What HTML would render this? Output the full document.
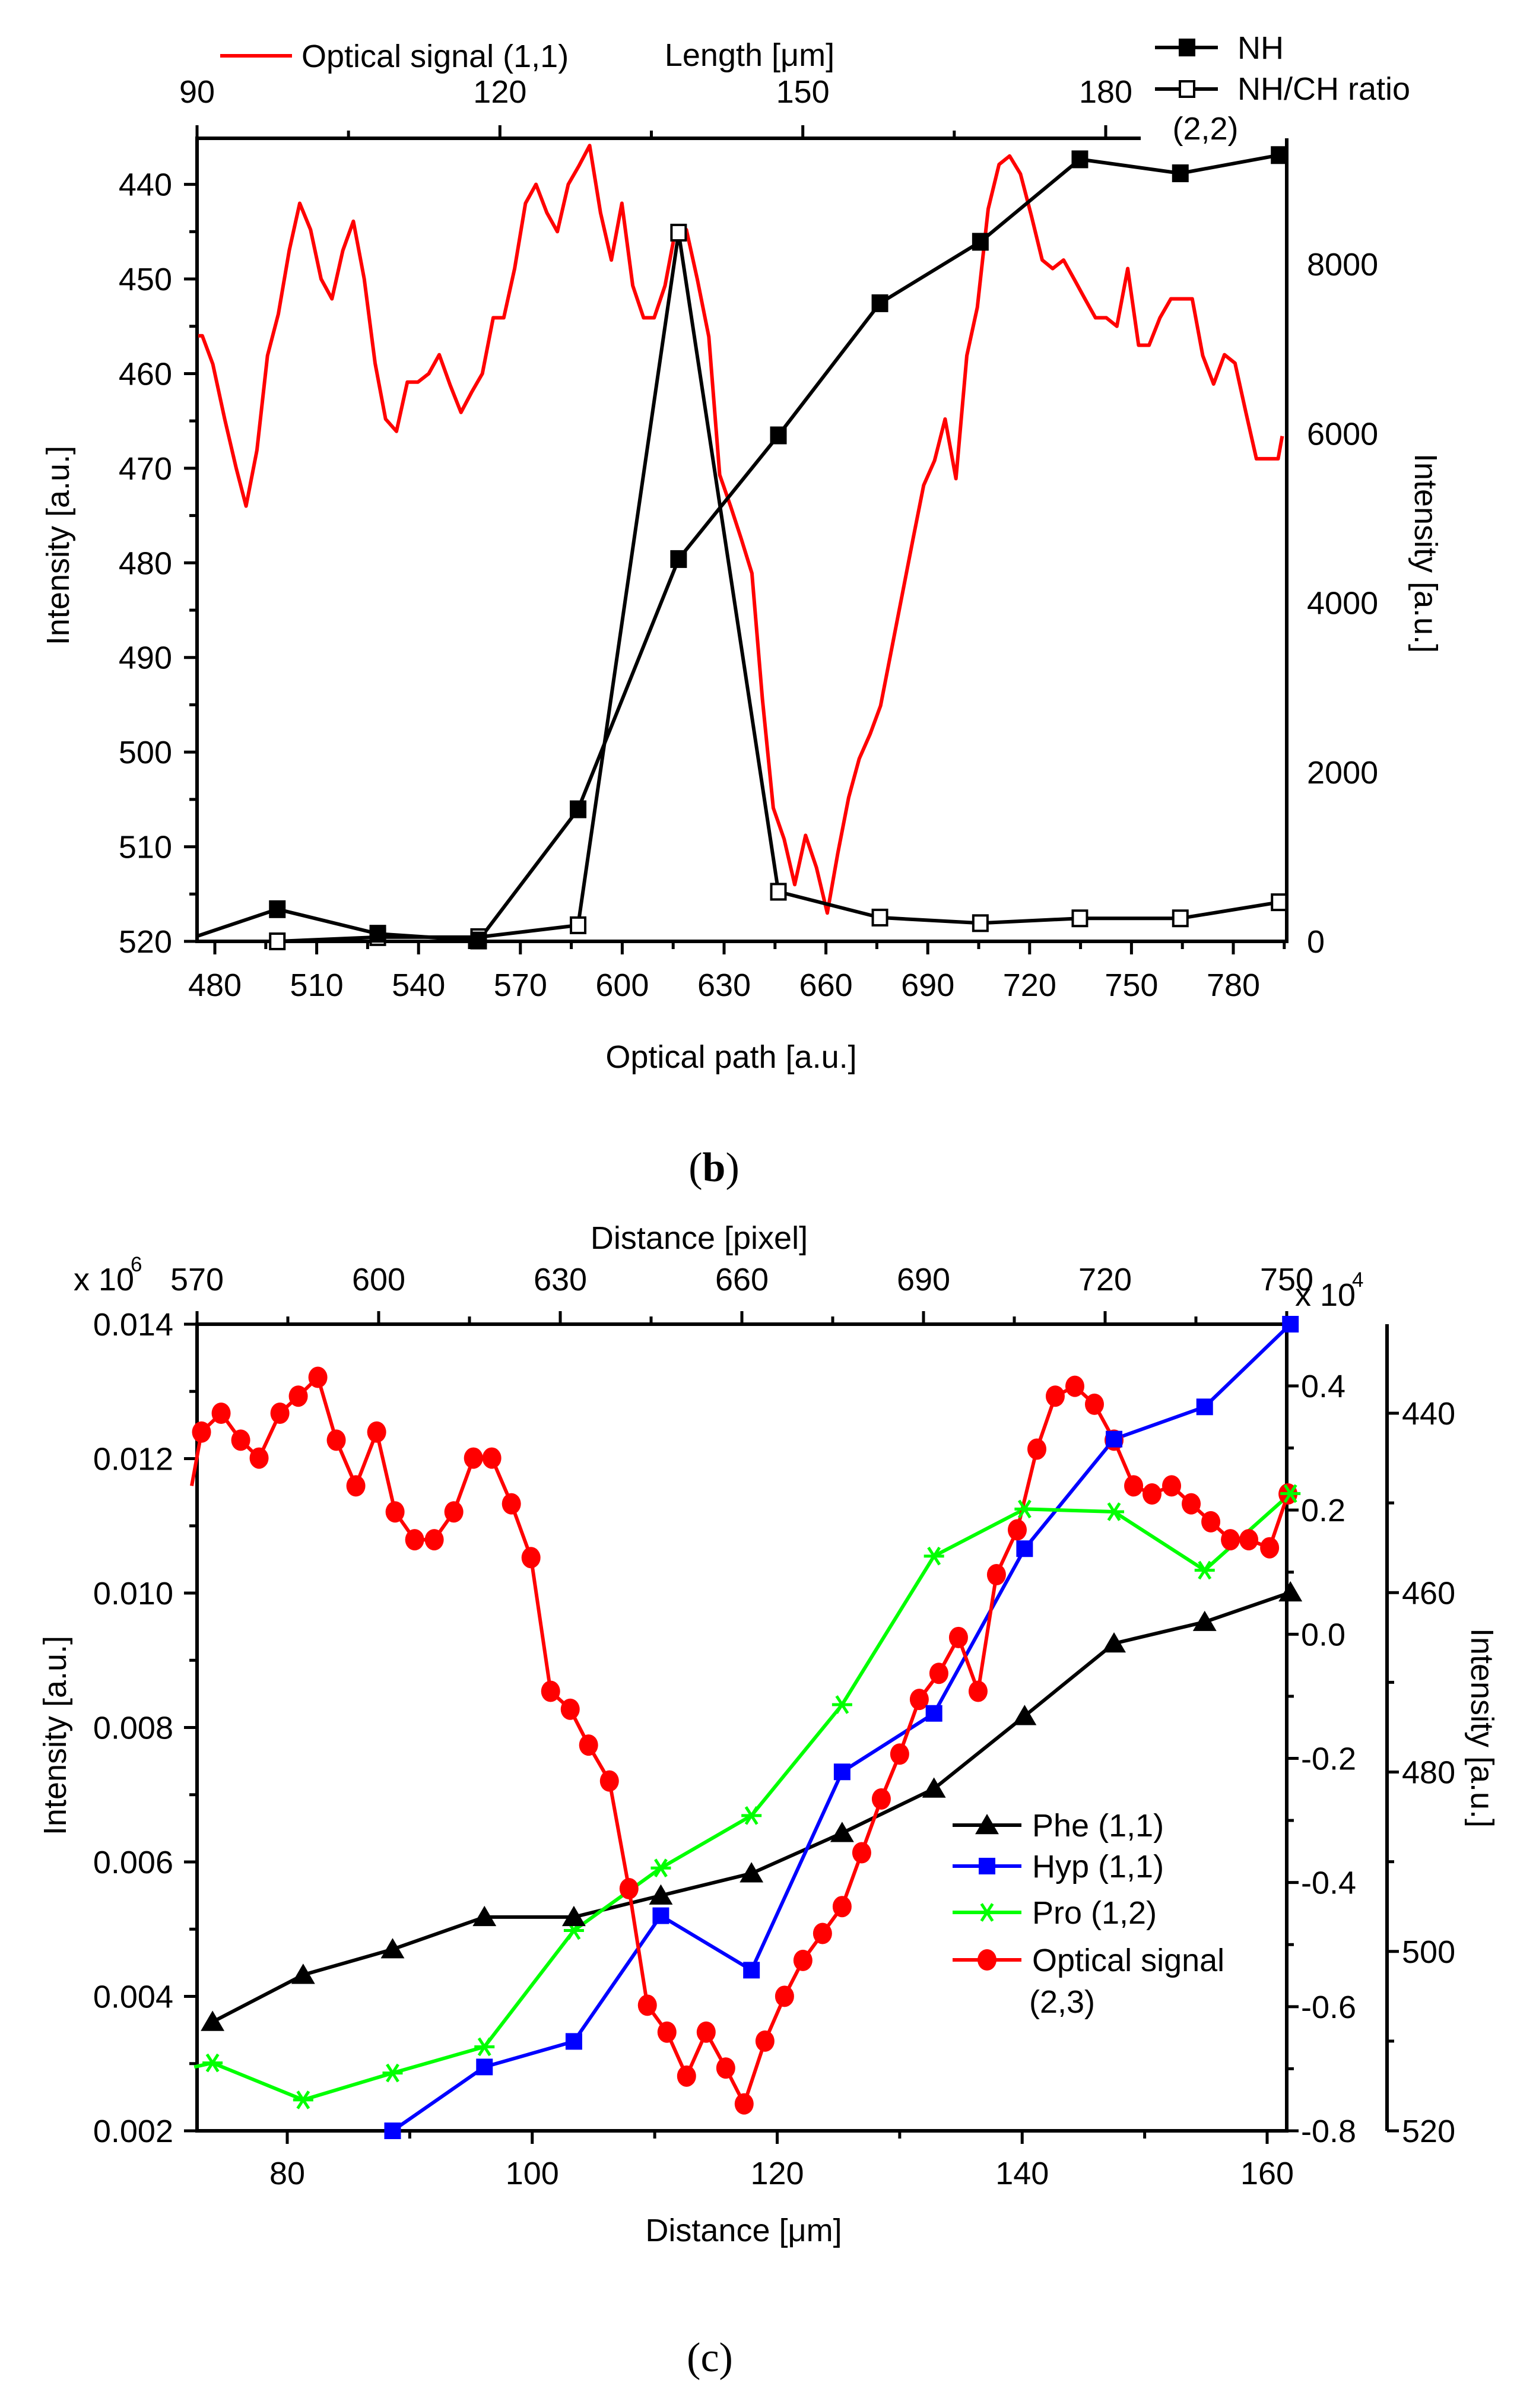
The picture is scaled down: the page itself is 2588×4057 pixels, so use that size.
<!DOCTYPE html>
<html><head><meta charset="utf-8"><style>
html,body{margin:0;padding:0;background:#fff}
svg{display:block}
text{font-family:"Liberation Sans",Arial,sans-serif;fill:#000}
</style></head><body>
<svg id="fig" xmlns="http://www.w3.org/2000/svg" width="2588" height="4057" viewBox="0 0 2588 4057">
<rect x="0" y="0" width="2588" height="4057" fill="#fff"/>
<g id="gb"></g>
<g id="gc"></g>
</svg>
<script>
// ---------- Chart (b) data ----------
const bOptX=[475.1,476.3,479.4,482.9,486.3,489.2,492.4,495.5,498.7,501.9,505.0,508.2,511.3,514.5,517.7,520.8,524.0,527.2,530.3,533.5,536.7,539.8,543.0,546.1,549.3,552.5,555.6,558.8,562.0,565.1,568.3,571.5,574.6,577.8,580.9,584.1,587.3,590.4,593.6,596.8,599.9,603.1,606.3,609.4,612.6,615.7,618.9,622.1,625.5,628.7,631.9,635.0,638.2,641.3,644.5,647.7,650.8,654.0,657.2,660.4,663.5,666.7,669.8,673.0,676.1,679.3,682.5,685.7,688.8,692.0,695.1,698.3,701.5,704.6,707.8,711.0,714.1,717.3,720.5,723.7,726.8,730.0,733.1,736.3,739.4,742.6,745.7,748.9,752.1,755.2,758.4,761.6,764.7,767.9,771.0,774.2,777.4,780.5,783.7,786.8,790.0,793.2,794.4];
const bOptY=[456.0,456.0,459.0,464.8,470.0,474.0,468.1,458.1,453.7,447.0,442.0,444.8,450.0,452.1,447.0,443.9,450.0,458.9,464.8,466.1,460.9,460.9,460.0,458.0,461.2,464.1,462.0,460.0,454.1,454.1,448.9,442.0,440.0,443.0,445.0,440.0,438.0,435.9,443.0,448.0,442.0,450.7,454.1,454.1,450.7,444.8,444.8,450.0,456.1,470.7,474.0,477.4,481.1,494.4,505.9,509.2,514.0,508.8,512.2,517.0,510.7,504.8,500.7,498.1,495.1,489.2,483.3,477.4,471.8,469.2,464.8,471.1,458.1,453.0,442.6,437.9,437.0,438.9,443.3,448.0,448.9,448.0,450.0,452.1,454.1,454.1,455.0,448.9,457.0,457.0,454.1,452.1,452.1,452.1,458.1,461.1,458.0,458.9,464.1,469.0,469.0,469.0,466.6];
const bNHX=[475.1,498.4,528.0,557.7,587.0,616.6,646.0,675.9,705.5,734.8,764.4,793.5];
const bNHY=[66,380,90,10,1560,4516,5977,7538,8264,9238,9073,9288];
const bRatX=[498.4,528.0,557.7,587.0,616.6,646.0,675.9,705.5,734.8,764.4,793.5];
const bRatY=[0,50,50,190,8372,586,281,215,272,272,462];
const bLeftTicks=[440,450,460,470,480,490,500,510,520];
const bBottomTicks=[480,510,540,570,600,630,660,690,720,750,780];
const bRightTicks=[0,2000,4000,6000,8000];
const bTopTicks=[90,120,150,180];

// ---------- Chart (c) data ----------
const cPheX=[73.9,81.3,88.6,96.1,103.4,110.5,117.9,125.3,132.8,140.2,147.5,154.9,161.9];
const cPheY=[0.00362,0.00432,0.00470,0.00518,0.00518,0.00550,0.00583,0.00643,0.00709,0.00817,0.00925,0.00957,0.01001];
const cHypX=[88.6,96.1,103.4,110.5,117.9,125.3,132.8,140.2,147.5,154.9,161.9];
const cHypY=[0.00200,0.00295,0.00333,0.00520,0.00439,0.00734,0.00821,0.01066,0.01229,0.01277,0.01400];
const cProX=[72.4,73.9,81.3,88.6,96.1,103.4,110.5,117.9,125.3,132.8,140.2,147.5,154.9,161.9];
const cProY=[0.00295,0.00301,0.00246,0.00286,0.00325,0.00498,0.00591,0.00669,0.00834,0.01055,0.01125,0.01121,0.01034,0.01148];
const cOptX=[72.2,73.0,74.6,76.2,77.7,79.4,80.9,82.5,84.0,85.6,87.3,88.8,90.4,92.0,93.6,95.2,96.7,98.3,99.9,101.5,103.1,104.6,106.3,107.9,109.4,111.0,112.6,114.2,115.8,117.3,119.0,120.6,122.1,123.7,125.3,126.9,128.5,130.0,131.6,133.2,134.8,136.4,137.9,139.6,141.2,142.7,144.3,145.9,147.5,149.1,150.6,152.2,153.8,155.4,157.0,158.5,160.2,161.7];
const cOptY=[448.1,442.1,440.0,443.0,445.0,440.0,438.1,436.0,443.0,448.1,442.1,451.0,454.1,454.1,451.0,445.0,445.0,450.1,456.1,471.0,473.0,477.0,481.0,493.0,506.0,509.0,513.9,509.0,513.0,517.0,510.0,505.0,501.0,498.0,495.0,489.0,483.0,478.0,471.9,469.0,465.0,471.0,458.0,453.0,444.0,438.1,437.0,439.0,443.0,448.1,449.0,448.1,450.1,452.1,454.1,454.1,455.0,449.0];
const cLeftTicks=["0.002","0.004","0.006","0.008","0.010","0.012","0.014"];
const cBottomTicks=[80,100,120,140,160];
const cTopTicks=[570,600,630,660,690,720,750];
const cInnerTicks=["-0.8","-0.6","-0.4","-0.2","0.0","0.2","0.4"];
const cFarTicks=[440,460,480,500,520];

const NS="http://www.w3.org/2000/svg";
const FS=54;
function mk(parent,tag,attrs){const e=document.createElementNS(NS,tag);for(const k in attrs)e.setAttribute(k,attrs[k]);parent.appendChild(e);return e;}
function txt(parent,x,y,s,anchor,size,rot){
  const t=document.createElementNS(NS,'text');
  t.setAttribute('transform','translate('+x+','+y+') rotate('+(rot||0)+')');
  t.setAttribute('text-anchor',anchor||'middle');
  t.setAttribute('font-size',size||FS);
  t.textContent=s;parent.appendChild(t);return t;
}
function line(parent,x1,y1,x2,y2,c,w){return mk(parent,'line',{x1:x1,y1:y1,x2:x2,y2:y2,stroke:c||'#000','stroke-width':w||6});}
function poly(parent,xs,ys,fx,fy,c,w){
  let d='';for(let i=0;i<xs.length;i++){d+=(i?'L':'M')+fx(xs[i]).toFixed(1)+','+fy(ys[i]).toFixed(1);}
  return mk(parent,'path',{d:d,fill:'none',stroke:c,'stroke-width':w||6,'stroke-linejoin':'round'});
}

// ====== Chart b ======
const gb=document.getElementById('gb');
const bxL=332,bxR=2168,byT=233,byB=1586;
const xb=v=>362+(v-480)*(2078-362)/300;
const yb=v=>310.6+(v-440)*(1586-310.6)/80;
const yr=v=>1586-v*(1586-445)/8000;
const xbt=v=>332+(v-90)*(1863-332)/90;

let a;
a=line(gb,bxL,byT,bxL,byB);


a=line(gb,bxL-3,byB,bxR+3,byB);


a=line(gb,bxR,byT,bxR,byB);


a=line(gb,bxL-3,byT,1922,byT);


for(let v=435;v<=520;v+=5){const y=yb(v);if(y<byT-1)continue;line(gb,bxL-(v%10===0?22:13),y,bxL,y,'#000',5);}
bLeftTicks.forEach(v=>{const t=txt(gb,290,yb(v)+19,String(v),'end');

});
for(let v=480;v<=795;v+=15){const x=xb(v);if(x>bxR)continue;line(gb,x,byB,x,byB+(v%30===0?22:13),'#000',5);}
bBottomTicks.forEach(v=>{const t=txt(gb,xb(v),1678,String(v),'middle');

});
bRightTicks.forEach(v=>{const t=txt(gb,2202,yr(v)+19,String(v),'start');

});
for(let v=90;v<=180;v+=15){const x=xbt(v);line(gb,x,byT,x,byT-(v%30===0?22:13),'#000',5);}
bTopTicks.forEach(v=>{const t=txt(gb,xbt(v),173,String(v),'middle');

});
let t;
t=txt(gb,116,919,'Intensity [a.u.]','middle',FS,-90);


t=txt(gb,2384,932,'Intensity [a.u.]','middle',FS,90);


t=txt(gb,1232,1799,'Optical path [a.u.]','middle');


t=txt(gb,1263,111,'Length [\u03bcm]','middle');



let p=poly(gb,bOptX,bOptY,xb,yb,'#ff0000',6);


p=poly(gb,bNHX,bNHY,xb,yr,'#000',6);


p=poly(gb,bRatX,bRatY,xb,yr,'#000',6);


bRatX.forEach((v,i)=>{const r=mk(gb,'rect',{x:xb(v)-12,y:yr(bRatY[i])-13,width:24,height:26,fill:'#fff',stroke:'#000','stroke-width':4});

});
bNHX.forEach((v,i)=>{if(v<477)return;const r=mk(gb,'rect',{x:xb(v)-14,y:yr(bNHY[i])-15,width:28,height:30,fill:'#000'});

});

const lb=mk(gb,'g',{});


line(lb,371,94,492,94,'#ff0000',6);
t=txt(lb,508,113,'Optical signal (1,1)','start');


line(lb,1946,80,2052,80,'#000',6);
mk(lb,'rect',{x:1986,y:65,width:28,height:30,fill:'#000'});
t=txt(lb,2085,99,'NH','start');


line(lb,1946,150,2052,150,'#000',6);
mk(lb,'rect',{x:1988,y:137,width:24,height:26,fill:'#fff',stroke:'#000','stroke-width':4});
t=txt(lb,2085,168,'NH/CH ratio','start');


t=txt(lb,2031,235,'(2,2)','middle');


t=document.createElementNS(NS,'text');
t.setAttribute('x',1203);t.setAttribute('y',1990);t.setAttribute('text-anchor','middle');
t.setAttribute('style','font-family:"Liberation Serif",serif;font-size:70px');
t.innerHTML='(<tspan font-weight="bold">b</tspan>)';
gb.appendChild(t);



// ====== Chart c ======
const gc=document.getElementById('gc');
const cxL=332,cxR=2168,cyT=2231,cyB=3590,farX=2337;
const xc=v=>484+(v-80)*(2135-484)/80;
const yc=v=>2231+(0.014-v)*(3590-2231)/0.012;
const yi=v=>2335+(0.4-v)*(3590-2335)/1.2;
const yf=v=>2381+(v-440)*(3590-2381)/80;
const xct=v=>332+(v-570)*(2168-332)/180;

a=line(gc,cxL,cyT-3,cxL,cyB);


a=line(gc,cxL-3,cyB,cxR+3,cyB);


a=line(gc,cxL-3,cyT,cxR+3,cyT);


a=line(gc,cxR,cyT,cxR,cyB);


a=line(gc,farX,cyT,farX,cyB);


for(let k=2;k<=14;k++){const y=yc(k/1000);line(gc,cxL-(k%2===0?22:13),y,cxL,y,'#000',5);}
cLeftTicks.forEach(s=>{const t=txt(gc,292,yc(parseFloat(s))+19,s,'end');

});
for(let v=80;v<=160;v+=10){const x=xc(v);line(gc,x,cyB,x,cyB+(v%20===0?22:13),'#000',5);}
cBottomTicks.forEach(v=>{const t=txt(gc,xc(v),3680,String(v),'middle');

});
for(let v=570;v<=750;v+=15){const x=xct(v);line(gc,x,cyT,x,cyT-(v%30===0?22:13),'#000',5);}
cTopTicks.forEach(v=>{const t=txt(gc,xct(v),2174,String(v),'middle');

});
for(let k=-8;k<=5;k++){const y=yi(k/10);if(y<cyT)continue;line(gc,cxR,y,cxR+(k%2===0?20:12),y,'#000',5);}
cInnerTicks.forEach(s=>{const t=txt(gc,2192,yi(parseFloat(s))+19,s,'start');

});
for(let v=430;v<=520;v+=10){const y=yf(v);if(y<cyT)continue;line(gc,farX,y,farX+(v%20===0?20:12),y,'#000',5);}
cFarTicks.forEach(v=>{const t=txt(gc,2362,yf(v)+19,String(v),'start');

});
t=txt(gc,124,2174,'x 10','start');


t=txt(gc,220,2142,'6','start',35);


t=txt(gc,2182,2200,'x 10','start');


t=txt(gc,2278,2168,'4','start',35);


t=txt(gc,1178,2104,'Distance [pixel]','middle');


t=txt(gc,1253,3776,'Distance [\u03bcm]','middle');


t=txt(gc,111,2924,'Intensity [a.u.]','middle',FS,-90);


t=txt(gc,2479,2911,'Intensity [a.u.]','middle',FS,90);



p=poly(gc,cPheX,cPheY,xc,yc,'#000',6);


p=poly(gc,cHypX,cHypY,xc,yc,'#0000ff',6);


p=poly(gc,cProX,cProY,xc,yc,'#00ff00',6);


p=poly(gc,cOptX,cOptY,xc,yf,'#ff0000',6);



function tri(g,x,y,s){return mk(g,'path',{d:'M'+x+','+(y-s)+'L'+(x+s*1.05)+','+(y+s*0.8)+'L'+(x-s*1.05)+','+(y+s*0.8)+'Z',fill:'#000'});}
function sq(g,x,y,s,c){return mk(g,'rect',{x:x-s,y:y-s,width:2*s,height:2*s,fill:c});}
function star(g,x,y,s,c){const gg=mk(g,'g',{stroke:c,'stroke-width':5});
 line(gg,x-s,y,x+s,y,c,5);line(gg,x-s*0.55,y-s*0.85,x+s*0.55,y+s*0.85,c,5);line(gg,x+s*0.55,y-s*0.85,x-s*0.55,y+s*0.85,c,5);return gg;}

cOptX.forEach((v,i)=>{if(i===0)return;const m=mk(gc,'ellipse',{cx:xc(v),cy:yf(cOptY[i]),rx:16,ry:18,fill:'#ff0000'});

});
cProX.forEach((v,i)=>{if(i===0)return;const m=star(gc,xc(v),yc(cProY[i]),17,'#00ff00');

});
cHypX.forEach((v,i)=>{const m=sq(gc,xc(v),yc(cHypY[i]),14,'#0000ff');

});
cPheX.forEach((v,i)=>{const m=tri(gc,xc(v),yc(cPheY[i]),19);

});

const lc=mk(gc,'g',{});


line(lc,1605,3075,1721,3075,'#000',6);tri(lc,1663,3075,19);
t=txt(lc,1739,3094,'Phe (1,1)','start');


line(lc,1605,3144,1721,3144,'#0000ff',6);sq(lc,1663,3144,14,'#0000ff');
t=txt(lc,1739,3163,'Hyp (1,1)','start');


line(lc,1605,3222,1721,3222,'#00ff00',6);star(lc,1663,3222,17,'#00ff00');
t=txt(lc,1739,3241,'Pro (1,2)','start');


line(lc,1605,3302,1721,3302,'#ff0000',6);mk(lc,'ellipse',{cx:1663,cy:3302,rx:16,ry:18,fill:'#ff0000'});
t=txt(lc,1739,3321,'Optical signal','start');


t=txt(lc,1734,3391,'(2,3)','start');


t=document.createElementNS(NS,'text');
t.setAttribute('x',1196);t.setAttribute('y',3995);t.setAttribute('text-anchor','middle');
t.setAttribute('style','font-family:"Liberation Serif",serif;font-size:70px');
t.textContent='(c)';
gc.appendChild(t);


</script>
</body></html>
